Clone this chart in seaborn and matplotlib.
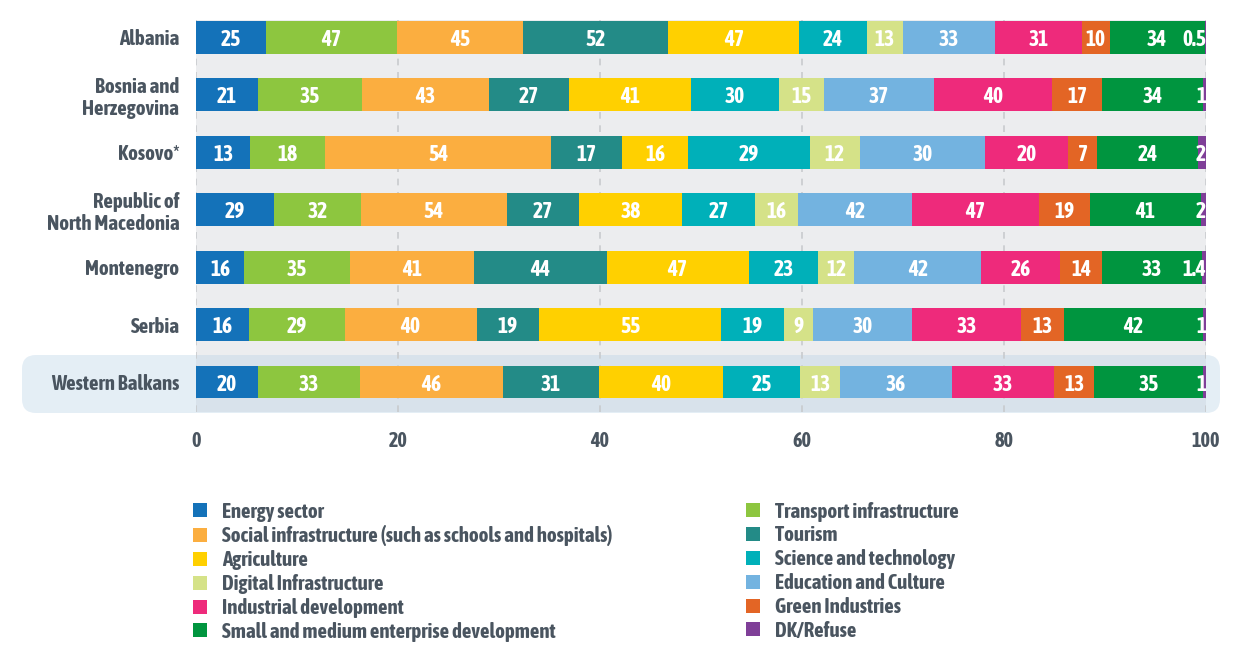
import numpy as np
import seaborn as sns
import matplotlib.pyplot as plt
from matplotlib.lines import Line2D
from matplotlib.patches import FancyBboxPatch
from matplotlib.transforms import IdentityTransform

# data (survey answers, each bar scaled to 100)
countries = ["Albania", "Bosnia and\nHerzegovina", "Kosovo*", "Republic of\nNorth Macedonia",
             "Montenegro", "Serbia", "Western Balkans"]

energy = [25, 21, 13, 29, 16, 16, 20]
transport = [47, 35, 18, 32, 35, 29, 33]
social = [45, 43, 54, 54, 41, 40, 46]
tourism = [52, 27, 17, 27, 44, 19, 31]
agriculture = [47, 41, 16, 38, 47, 55, 40]
science = [24, 30, 29, 27, 23, 19, 25]
digital = [13, 15, 12, 16, 12, 9, 13]
education = [33, 37, 30, 42, 42, 30, 36]
industrial = [31, 40, 20, 47, 26, 33, 33]
green = [10, 17, 7, 19, 14, 13, 13]
sme = [34, 34, 24, 41, 33, 42, 35]
dk = [0.5, 1, 2, 2, 1.4, 1, 1]

sectors = ["Energy sector", "Transport infrastructure",
           "Social infrastructure (such as schools and hospitals)", "Tourism",
           "Agriculture", "Science and technology", "Digital Infrastructure",
           "Education and Culture", "Industrial development", "Green Industries",
           "Small and medium enterprise development", "DK/Refuse"]
colors = ["#1472B9", "#8DC63F", "#FBAE40", "#238B87", "#FFD000", "#00B0B9",
          "#D5E288", "#73B3E0", "#EE2A7B", "#E36525", "#00953F", "#7F3F98"]

TXT = "#4A5560"

sns.set_theme(style="white")
plt.rcParams['font.family'] = ['Asap Condensed', 'DejaVu Sans']
plt.rcParams['font.weight'] = 'bold'

values = np.array([energy, transport, social, tourism, agriculture, science,
                   digital, education, industrial, green, sme, dk], dtype=float)
shares = values / values.sum(axis=0) * 100
cum = shares.cumsum(axis=0)

W, H = 1246, 645
fig = plt.figure(figsize=(W / 100, H / 100), dpi=100)
ax = fig.add_axes([196 / W, 1 - 412 / H, (1206 - 196) / W, (412 - 20) / H])
ax.set_facecolor("#ECEDEF")

# stacked bars: draw cumulative totals from the back
for i in reversed(range(len(sectors))):
    sns.barplot(x=cum[i], y=countries, color=colors[i], orient="h", width=0.57,
                saturation=1, errorbar=None, linewidth=0, ax=ax)

# segment labels
for i in range(len(sectors)):
    for j in range(len(countries)):
        v = values[i, j]
        if i == len(sectors) - 1:
            ax.text(100, j, f"{v:g}", ha="right", va="center_baseline",
                    color="white", fontsize=15.5, fontweight="bold", clip_on=True)
        else:
            ax.text(cum[i, j] - shares[i, j] / 2, j, f"{v:g}", ha="center",
                    va="center_baseline", color="white", fontsize=15.5,
                    fontweight="bold")

# highlight for regional average
hl = FancyBboxPatch((22, H - 413), 1198, 58,
                    boxstyle="round,pad=0,rounding_size=14",
                    transform=IdentityTransform(), facecolor=(182 / 255, 209 / 255, 230 / 255),
                    alpha=0.37, edgecolor="none", clip_on=False, zorder=0.2)
ax.add_patch(hl)

ax.set_xlim(0, 100)
ax.set_ylim(6.52, -0.30)
ax.set_xticks([0, 20, 40, 60, 80, 100])
ax.xaxis.grid(True, color="#C8CBCE", linestyle=(0, (4, 4)), linewidth=1.2)
ax.yaxis.grid(False)
ax.set_xlabel("")
ax.set_ylabel("")
ax.tick_params(axis="y", length=0, pad=12, labelsize=15, labelcolor=TXT)
ax.tick_params(axis="x", length=0, pad=14, labelsize=14.5, labelcolor=TXT)
for t in ax.get_yticklabels() + ax.get_xticklabels():
    t.set_fontweight("bold")
for t in ax.get_yticklabels():
    t.set_linespacing(1.15)
sns.despine(ax=ax, left=True, bottom=True)


def handles(idx):
    return [Line2D([], [], marker="s", linestyle="none", markersize=9.5,
                   markerfacecolor=colors[i], markeredgewidth=0) for i in idx]


left_idx = [0, 2, 4, 6, 8, 10]
right_idx = [1, 3, 5, 7, 9, 11]
for idx, x0 in [(left_idx, 191), (right_idx, 744)]:
    fig.legend(handles(idx), [sectors[i] for i in idx], loc="upper left",
               bbox_to_anchor=(x0 / W, 1 - 501.5 / H), frameon=False,
               prop={"family": ["Asap Condensed", "DejaVu Sans"], "weight": "bold", "size": 15},
               handlelength=0.9, handletextpad=0.6, labelspacing=0.185,
               borderpad=0, borderaxespad=0, labelcolor=TXT)

fig.savefig("out.png", dpi=100)
